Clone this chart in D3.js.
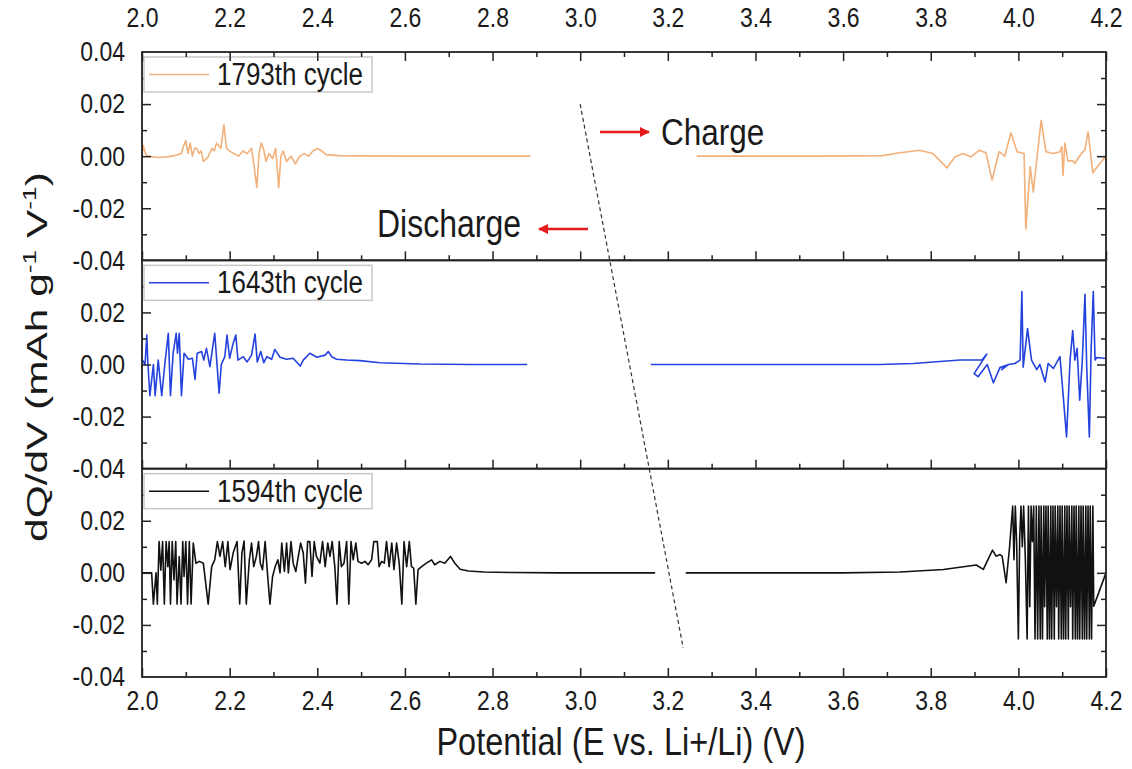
<!DOCTYPE html>
<html>
<head>
<meta charset="utf-8">
<script src="https://cdn.jsdelivr.net/npm/d3@7"></script>
<style>
  html, body { margin: 0; padding: 0; background: #fff; }
  svg { display: block; font-family: "Liberation Sans", Arial, sans-serif; }
</style>
</head>
<body>
<svg id="chart" width="1132" height="769"></svg>
<script>
// ---------------- DATA ----------------
const xDomain = [2.0, 4.2];
const yDomain = [-0.04, 0.04];
const xMajorTicks = [2.0, 2.2, 2.4, 2.6, 2.8, 3.0, 3.2, 3.4, 3.6, 3.8, 4.0, 4.2];
const xMinorTicks = [2.1, 2.3, 2.5, 2.7, 2.9, 3.1, 3.3, 3.5, 3.7, 3.9, 4.1];
const yMajorTicks = [-0.04, -0.02, 0.0, 0.02, 0.04];
const yMinorTicks = [-0.03, -0.01, 0.01, 0.03];
const cycleNames = ["1793th cycle", "1643th cycle", "1594th cycle"];
const cycleColors = ["#F2B07A", "#2442DD", "#111111"];

// 1793th cycle
const c1793Discharge = [
  [2.000,0.000],[2.003,0.004],[2.008,0.001],[2.012,0.000],[2.040,-0.0005],[2.070,0.000],[2.090,0.001],
  [2.095,0.004],[2.100,0.006],[2.105,0.001],[2.110,0.005],[2.115,0.000],[2.120,0.003],[2.125,0.003],
  [2.130,0.001],[2.135,0.002],[2.140,-0.002],[2.150,-0.0005],[2.160,0.003],[2.165,0.002],[2.170,0.005],
  [2.180,0.003],[2.187,0.012],[2.193,0.003],[2.200,0.002],[2.210,0.001],[2.220,0.000],[2.230,0.002],
  [2.240,0.001],[2.250,0.003],[2.256,-0.004],[2.262,-0.012],[2.267,0.001],[2.272,0.005],[2.277,0.003],
  [2.283,-0.002],[2.290,0.001],[2.298,-0.001],[2.305,0.003],[2.312,-0.012],[2.317,0.000],[2.322,0.002],
  [2.330,-0.002],[2.340,0.000],[2.350,-0.003],[2.360,0.000],[2.370,0.001],[2.380,0.000],[2.390,0.002],
  [2.400,0.003],[2.410,0.002],[2.420,0.0006],[2.450,0.0002],[2.500,0.0001],[2.600,0.0],[2.700,0.0],
  [2.800,0.0],[2.887,0.0]
];
const c1793Charge = [
  [3.266,0.0],[3.400,0.0],[3.550,0.0],[3.690,0.0002],[3.730,0.0013],[3.775,0.0023],[3.805,0.001],
  [3.837,-0.0045],[3.855,-0.0003],[3.874,0.001],[3.892,-0.0003],[3.911,0.0023],[3.926,0.0013],
  [3.940,-0.0092],[3.956,0.0017],[3.969,0.000],[3.983,0.009],[3.997,0.0017],[4.013,0.001],
  [4.017,-0.028],[4.027,-0.004],[4.034,-0.0137],[4.052,0.0138],[4.063,0.0017],[4.080,0.001],
  [4.095,0.0017],[4.099,0.0036],[4.102,-0.0073],[4.106,0.005],[4.113,-0.0018],[4.125,-0.0018],
  [4.129,-0.0028],[4.136,-0.0009],[4.145,0.0013],[4.152,0.0023],[4.159,0.0094],[4.170,-0.0064],
  [4.186,-0.0028],[4.200,0.000]
];

// 1643th cycle
const c1643Discharge = [
  [2.000,0.002],[2.007,0.000],[2.011,0.0113],[2.013,0.0017],[2.018,-0.012],[2.026,0.000],[2.030,-0.012],
  [2.037,0.0017],[2.045,-0.012],[2.052,0.000],[2.060,0.012],[2.065,-0.012],[2.071,0.0043],[2.078,0.012],
  [2.081,0.0043],[2.085,0.012],[2.090,-0.012],[2.096,0.0043],[2.106,0.002],[2.115,0.0024],[2.121,-0.0057],
  [2.126,0.0043],[2.136,0.005],[2.141,0.0017],[2.147,0.0062],[2.155,-0.0008],[2.166,0.012],[2.176,-0.011],
  [2.181,0.000],[2.189,0.003],[2.194,0.0113],[2.200,0.0024],[2.208,0.0081],[2.214,0.0113],[2.219,0.0017],
  [2.231,0.003],[2.240,0.001],[2.250,0.0036],[2.258,0.0117],[2.263,0.001],[2.271,0.005],[2.278,0.0007],
  [2.285,0.003],[2.296,0.002],[2.303,0.0058],[2.315,0.0028],[2.330,0.002],[2.345,0.0024],[2.361,-0.0006],
  [2.368,0.0017],[2.383,0.0043],[2.399,0.0028],[2.418,0.0036],[2.425,0.005],[2.433,0.003],[2.444,0.002],
  [2.467,0.0017],[2.497,0.0015],[2.543,0.0007],[2.634,0.0002],[2.750,0.0],[2.879,0.0]
];
const c1643Charge = [
  [3.161,0.0],[3.400,0.0],[3.600,0.0],[3.684,0.0],[3.760,0.0004],[3.867,0.0017],[3.917,0.0017],
  [3.928,0.004],[3.899,-0.0035],[3.908,-0.0047],[3.929,0.000],[3.943,-0.007],[3.958,-0.0012],
  [3.973,-0.0003],[3.962,-0.002],[3.977,0.000],[3.992,0.0004],[4.004,0.0017],[4.008,0.028],
  [4.011,-0.001],[4.021,0.0138],[4.030,0.0017],[4.042,-0.002],[4.049,0.000],[4.061,-0.0067],
  [4.068,0.0004],[4.080,-0.0015],[4.095,0.003],[4.110,-0.0278],[4.118,0.0017],[4.124,0.013],
  [4.129,0.0017],[4.134,0.0062],[4.140,-0.0137],[4.146,0.0017],[4.152,0.027],[4.156,-0.001],
  [4.162,-0.0278],[4.166,0.0055],[4.171,0.028],[4.175,0.0017],[4.179,0.0027],[4.200,0.0023]
];

// 1594th cycle
const c1594Discharge = [
  [2.000,0.000],[2.015,0.000],[2.022,0.000],[2.026,-0.012],[2.032,0.000],[2.035,-0.012],[2.039,0.012],
  [2.043,0.001],[2.047,0.012],[2.051,-0.012],[2.055,0.012],[2.059,0.0024],[2.062,0.012],[2.065,-0.012],
  [2.069,0.012],[2.073,-0.0027],[2.077,0.012],[2.080,-0.012],[2.085,0.0063],[2.089,-0.012],[2.093,0.012],
  [2.096,-0.0014],[2.100,0.012],[2.104,-0.012],[2.108,0.012],[2.112,-0.012],[2.117,0.0114],[2.123,0.0037],
  [2.131,0.0044],[2.140,0.0037],[2.151,-0.012],[2.159,0.0024],[2.166,0.005],[2.172,0.012],[2.178,0.0063],
  [2.184,0.012],[2.190,0.0024],[2.196,0.012],[2.201,0.0012],[2.208,0.0076],[2.217,0.012],[2.223,-0.012],
  [2.228,0.0076],[2.233,0.0122],[2.238,-0.012],[2.245,0.005],[2.250,0.0114],[2.255,0.0024],[2.261,0.0063],
  [2.266,0.012],[2.270,0.0037],[2.275,0.0012],[2.281,0.012],[2.286,0.0005],[2.292,-0.012],[2.298,-0.0014],
  [2.304,0.0024],[2.310,0.005],[2.315,0.000],[2.319,0.0114],[2.325,0.0005],[2.330,0.0114],[2.334,0.000],
  [2.340,0.012],[2.345,0.0037],[2.351,0.0005],[2.356,0.0056],[2.362,0.0114],[2.368,0.0076],[2.373,-0.004],
  [2.378,0.012],[2.383,0.012],[2.388,-0.0014],[2.393,0.012],[2.398,0.0063],[2.406,0.0037],[2.412,0.012],
  [2.418,0.0024],[2.424,0.0114],[2.429,0.0063],[2.434,0.012],[2.440,0.0024],[2.445,-0.012],[2.450,0.012],
  [2.455,0.0024],[2.461,0.0037],[2.467,0.012],[2.472,-0.012],[2.477,0.012],[2.482,0.005],[2.488,0.0114],
  [2.493,0.0044],[2.501,0.0037],[2.509,0.0044],[2.516,0.0031],[2.524,0.005],[2.529,0.012],[2.537,0.012],
  [2.541,0.0024],[2.547,0.0044],[2.553,0.0037],[2.558,0.012],[2.564,0.0024],[2.570,0.0114],[2.575,0.0012],
  [2.581,0.0114],[2.587,0.0037],[2.593,-0.012],[2.598,0.012],[2.604,0.0024],[2.610,0.012],[2.615,0.0024],
  [2.620,0.0018],[2.625,-0.012],[2.630,0.0012],[2.638,0.0024],[2.649,0.0037],[2.661,0.005],[2.668,0.0031],
  [2.680,0.0044],[2.691,0.0037],[2.704,0.0063],[2.714,0.0037],[2.726,0.0014],[2.745,0.0007],
  [2.780,0.0003],[2.850,0.0001],[2.950,0.0],[3.050,0.0],[3.171,0.0]
];
const c1594Charge = [
  [3.241,0.0],[3.400,0.0],[3.600,0.0],[3.730,0.0003],[3.829,0.0013],[3.904,0.003],[3.920,0.0013],
  [3.941,0.0087],[3.949,0.0064],[3.958,0.007],[3.963,0.0064],[3.972,-0.0038],[3.980,0.010],
  [3.987,0.0256],[3.990,0.005],[3.993,0.0256],[3.996,0.012],[4.000,-0.0254],[4.003,0.013],[4.006,0.0256],
  [4.009,0.010],[4.012,0.0256],[4.016,0.005],[4.020,-0.0254],[4.023,0.0256],[4.026,-0.013],[4.029,0.0256],
  [4.032,0.012],[4.035,0.0256],[4.038,-0.0254],[4.041,0.0256],[4.044,-0.0254],[4.047,0.0256],
  [4.050,-0.0254],[4.052,0.0256],[4.055,-0.0254],[4.058,0.0256],[4.060,-0.013],[4.063,0.0256],
  [4.066,-0.0254],[4.068,0.0256],[4.071,-0.0254],[4.074,0.0256],[4.076,-0.0254],[4.079,0.0256],
  [4.082,-0.0254],[4.084,0.0256],[4.087,-0.013],[4.090,0.0256],[4.092,-0.0254],[4.095,0.0256],
  [4.098,-0.0254],[4.100,0.0256],[4.103,-0.0254],[4.106,0.0256],[4.108,-0.0254],[4.111,0.0256],
  [4.114,-0.0254],[4.116,0.0256],[4.119,-0.013],[4.122,0.0256],[4.124,-0.0254],[4.127,0.0256],
  [4.130,-0.0254],[4.132,0.0256],[4.135,-0.0254],[4.138,0.0256],[4.140,-0.0254],[4.143,0.0256],
  [4.146,-0.0254],[4.148,0.0256],[4.151,-0.0254],[4.154,0.0256],[4.156,-0.0254],[4.159,0.0256],
  [4.162,-0.0254],[4.164,0.0256],[4.167,-0.0254],[4.170,0.0256],[4.172,-0.0128],[4.200,0.000]
];

const panelSeries = [
  [c1793Discharge, c1793Charge],
  [c1643Discharge, c1643Charge],
  [c1594Discharge, c1594Charge]
];

// Annotation anchors (data coordinates)
const dashStart = { x: 3.0, y: 0.020, panel: 0 };
const dashEnd = { x: 3.235, y: -0.0288, panel: 2 };

// ---------------- DRAW ----------------
const svg = d3.select("#chart");
const mLeft = 142, mRight = 1106, mTop = 52, mBottom = 677;
const panelH = (mBottom - mTop) / 3;
const x = d3.scaleLinear().domain(xDomain).range([mLeft, mRight]);
const yScales = [0, 1, 2].map(i =>
  d3.scaleLinear().domain(yDomain).range([mTop + (i + 1) * panelH, mTop + i * panelH]));

const axisColor = "#222";
const textColor = "#1a1a1a";
const stretchY = 1.2;   // glyphs in the reference are taller than wide
const tickFont = 23;
const fmt2 = d3.format(".2f");
const fmt1 = d3.format(".1f");

function styleAxis(g) {
  g.select(".domain").remove();
  g.selectAll("line").attr("stroke", axisColor).attr("stroke-width", 1.5);
  g.selectAll("text").attr("fill", textColor).style("font-size", tickFont + "px")
    .style("font-family", "'Liberation Sans', Arial, sans-serif")
    .attr("transform", `scale(1,${stretchY})`);
}

function label(xp, yp, str, size, anchor) {
  const g = svg.append("g").attr("transform", `translate(${xp},${yp}) scale(1,${stretchY})`);
  return g.append("text").attr("x", 0).attr("y", 0).attr("text-anchor", anchor || "start")
    .attr("fill", textColor).style("font-size", size + "px").text(str);
}

// Data lines (clipped to the frame)
svg.append("clipPath").attr("id", "clip")
  .append("rect").attr("x", mLeft).attr("y", mTop).attr("width", mRight - mLeft).attr("height", mBottom - mTop);

panelSeries.forEach((segs, i) => {
  const y = yScales[i];
  const line = d3.line().x(d => x(d[0])).y(d => y(d[1]));
  segs.forEach(seg => {
    svg.append("path")
      .datum(seg)
      .attr("clip-path", "url(#clip)")
      .attr("fill", "none")
      .attr("stroke", cycleColors[i])
      .attr("stroke-width", 1.6)
      .attr("stroke-linejoin", "round")
      .attr("d", line);
  });
});

// Axes per panel
yScales.forEach((y, i) => {
  const pTop = mTop + i * panelH, pBot = mTop + (i + 1) * panelH;
  svg.append("g").attr("transform", `translate(0,${pBot})`)
    .call(d3.axisTop(x).tickValues(xMajorTicks).tickSize(9).tickFormat(""))
    .call(styleAxis);
  svg.append("g").attr("transform", `translate(0,${pBot})`)
    .call(d3.axisTop(x).tickValues(xMinorTicks).tickSize(5).tickFormat(""))
    .call(styleAxis);
  svg.append("g").attr("transform", `translate(${mLeft},0)`)
    .call(d3.axisRight(y).tickValues(yMajorTicks.filter(v => Math.abs(v) < 0.039)).tickSize(9).tickFormat(""))
    .call(styleAxis);
  svg.append("g").attr("transform", `translate(${mLeft},0)`)
    .call(d3.axisRight(y).tickValues(yMinorTicks).tickSize(5).tickFormat(""))
    .call(styleAxis);
  svg.append("g").attr("transform", `translate(${mRight},0)`)
    .call(d3.axisLeft(y).tickValues(yMajorTicks.filter(v => Math.abs(v) < 0.039)).tickSize(9).tickFormat(""))
    .call(styleAxis);
  svg.append("g").attr("transform", `translate(${mRight},0)`)
    .call(d3.axisLeft(y).tickValues(yMinorTicks).tickSize(5).tickFormat(""))
    .call(styleAxis);
  const labelVals = i === 0 ? yMajorTicks : yMajorTicks.filter(v => v < 0.039);
  svg.append("g").attr("transform", `translate(${mLeft},0)`)
    .call(d3.axisLeft(y).tickValues(labelVals).tickSize(0).tickPadding(17).tickFormat(v => fmt2(v).replace("−", "-")))
    .call(styleAxis);
  svg.append("rect").attr("x", mLeft).attr("y", pTop).attr("width", mRight - mLeft).attr("height", panelH)
    .attr("fill", "none").attr("stroke", axisColor).attr("stroke-width", 1.8);

  // legend
  const lg = svg.append("g").attr("transform", `translate(${mLeft + 2},${pTop + 5})`);
  lg.append("rect").attr("x", 0).attr("y", 0).attr("width", 228).attr("height", 35)
    .attr("fill", "#fff").attr("stroke", "#c8c8c8").attr("stroke-width", 1.5);
  lg.append("line").attr("x1", 5).attr("x2", 65).attr("y1", 17.5).attr("y2", 17.5)
    .attr("stroke", cycleColors[i]).attr("stroke-width", 1.5);
  lg.append("g").attr("transform", `translate(73,28) scale(1,${stretchY})`)
    .append("text").text(cycleNames[i]).attr("fill", textColor).style("font-size", "26px");
});

// top axis: inward ticks and labels
svg.append("g").attr("transform", `translate(0,${mTop})`)
  .call(d3.axisBottom(x).tickValues(xMajorTicks).tickSize(9).tickFormat(""))
  .call(styleAxis);
svg.append("g").attr("transform", `translate(0,${mTop})`)
  .call(d3.axisBottom(x).tickValues(xMinorTicks).tickSize(5).tickFormat(""))
  .call(styleAxis);
svg.append("g").attr("transform", `translate(0,${mTop})`)
  .call(d3.axisTop(x).tickValues(xMajorTicks).tickSize(0).tickPadding(21).tickFormat(fmt1))
  .call(styleAxis);
// bottom labels
svg.append("g").attr("transform", `translate(0,${mBottom})`)
  .call(d3.axisBottom(x).tickValues(xMajorTicks).tickSize(0).tickPadding(11).tickFormat(fmt1))
  .call(styleAxis);

// axis titles
label(621, 755, "Potential (E vs. Li+/Li) (V)", 32.5, "middle");

const yt = svg.append("text").attr("transform", "translate(47,357) rotate(-90)")
  .attr("text-anchor", "middle").attr("fill", textColor).style("font-size", "29px");
yt.append("tspan").text("dQ/dV (mAh g");
yt.append("tspan").attr("dy", -11).style("font-size", "18px").text("-1");
yt.append("tspan").attr("dy", 11).text(" V");
yt.append("tspan").attr("dy", -11).style("font-size", "18px").text("-1");
yt.append("tspan").attr("dy", 11).text(")");
const ytLen = yt.node().getComputedTextLength();
yt.attr("transform", `translate(47,357) rotate(-90) scale(${370 / ytLen},1)`);

// dashed separator line
svg.append("line")
  .attr("x1", x(dashStart.x)).attr("y1", yScales[dashStart.panel](dashStart.y))
  .attr("x2", x(dashEnd.x)).attr("y2", yScales[dashEnd.panel](dashEnd.y))
  .attr("stroke", "#333").attr("stroke-width", 1.2).attr("stroke-dasharray", "4,3");

// arrows + annotations
const defs = svg.append("defs");
defs.append("marker").attr("id", "arrowRed").attr("viewBox", "0 0 10 10")
  .attr("refX", 9).attr("refY", 5).attr("markerWidth", 4).attr("markerHeight", 4)
  .attr("orient", "auto-start-reverse").attr("markerUnits", "strokeWidth")
  .append("path").attr("d", "M0,0 L10,5 L0,10 z").attr("fill", "#e8191b");

svg.append("line").attr("x1", 600).attr("y1", 132).attr("x2", 649).attr("y2", 132)
  .attr("stroke", "#e8191b").attr("stroke-width", 2.6).attr("marker-end", "url(#arrowRed)");
label(661, 145, "Charge", 31.5);

svg.append("line").attr("x1", 588).attr("y1", 229).attr("x2", 539).attr("y2", 229)
  .attr("stroke", "#e8191b").attr("stroke-width", 2.6).attr("marker-end", "url(#arrowRed)");
label(377, 237, "Discharge", 32);
</script>
</body>
</html>
